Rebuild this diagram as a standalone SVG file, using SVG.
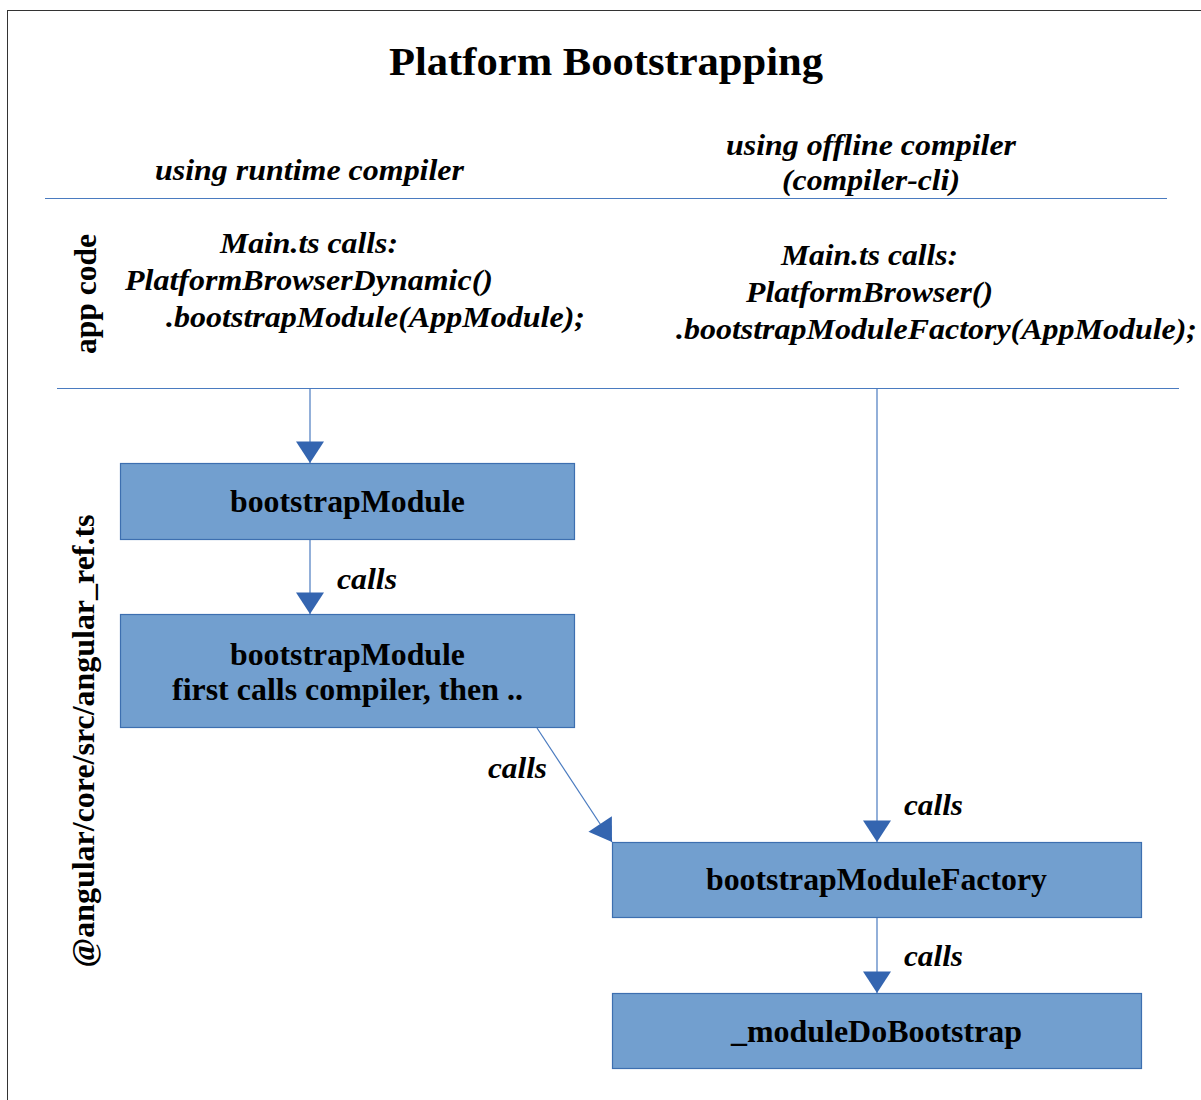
<svg xmlns="http://www.w3.org/2000/svg" width="1201" height="1100" viewBox="0 0 1201 1100">
<style>
text{font-family:"Liberation Serif","Times New Roman",serif;fill:#000;font-weight:bold}
.t{font-size:40px}
.h{font-size:30px;font-style:italic}
.n{font-size:31px;text-anchor:middle}
.c{font-size:30px;font-style:italic}
.r{font-size:31px;text-anchor:middle}
.box{fill:#729fcf;stroke:#3d6fb0;stroke-width:1.2}
.sep{stroke:#4a7bc0;stroke-width:1.2;fill:none}
.edge{stroke:#4a7bc0;stroke-width:1.2;fill:none}
</style>
<defs>
<marker id="ah" markerUnits="userSpaceOnUse" markerWidth="28" markerHeight="28" viewBox="0 0 20 26" refX="20" refY="13" orient="auto">
<path d="M0,0 L20,13 L0,26 Z" fill="#3465b0"/>
</marker>
</defs>
<rect x="7.5" y="10.5" width="1200" height="1100" fill="#fff" stroke="#333" stroke-width="1"/>
<text class="t" x="389" y="75" textLength="434" lengthAdjust="spacingAndGlyphs">Platform Bootstrapping</text>
<text class="h" x="155" y="180" textLength="309" lengthAdjust="spacingAndGlyphs">using runtime compiler</text>
<text class="h" x="726" y="155" textLength="290" lengthAdjust="spacingAndGlyphs">using offline compiler</text>
<text class="h" x="782" y="190" textLength="178" lengthAdjust="spacingAndGlyphs">(compiler-cli)</text>
<line class="sep" x1="45" y1="198.5" x2="1167" y2="198.5"/>
<line class="sep" x1="57" y1="388.5" x2="1179" y2="388.5"/>
<text class="r" transform="translate(96,294) rotate(-90)" textLength="120" lengthAdjust="spacingAndGlyphs">app code</text>
<text class="r" transform="translate(94,741) rotate(-90)" textLength="453" lengthAdjust="spacingAndGlyphs">@angular/core/src/angular_ref.ts</text>
<g id="main-runtime">
<text class="h" x="220" y="253" textLength="178" lengthAdjust="spacingAndGlyphs">Main.ts calls:</text>
<text class="h" x="125" y="290" textLength="368" lengthAdjust="spacingAndGlyphs">PlatformBrowserDynamic()</text>
<text class="h" x="166" y="327" textLength="419" lengthAdjust="spacingAndGlyphs">.bootstrapModule(AppModule);</text>
</g>
<g id="main-offline">
<text class="h" x="781" y="265" textLength="177" lengthAdjust="spacingAndGlyphs">Main.ts calls:</text>
<text class="h" x="746" y="302" textLength="247" lengthAdjust="spacingAndGlyphs">PlatformBrowser()</text>
<text class="h" x="676" y="339" textLength="521" lengthAdjust="spacingAndGlyphs">.bootstrapModuleFactory(AppModule);</text>
</g>
<g id="connectors">
<line class="edge" x1="310" y1="388" x2="310" y2="463" marker-end="url(#ah)"/>
<line class="edge" x1="310" y1="539" x2="310" y2="614" marker-end="url(#ah)"/>
<line class="edge" x1="537" y1="728" x2="612" y2="842" marker-end="url(#ah)"/>
<line class="edge" x1="877" y1="388" x2="877" y2="842" marker-end="url(#ah)"/>
<line class="edge" x1="877" y1="917" x2="877" y2="993" marker-end="url(#ah)"/>
<text class="c" x="337" y="589" textLength="60" lengthAdjust="spacingAndGlyphs">calls</text>
<text class="c" x="488" y="778" textLength="59" lengthAdjust="spacingAndGlyphs">calls</text>
<text class="c" x="904" y="815" textLength="59" lengthAdjust="spacingAndGlyphs">calls</text>
<text class="c" x="904" y="966" textLength="59" lengthAdjust="spacingAndGlyphs">calls</text>
</g>
<g id="bootstrapModule1">
<rect class="box" x="120.5" y="463.5" width="454" height="76"/>
<text class="n" x="347.5" y="512" textLength="235" lengthAdjust="spacingAndGlyphs">bootstrapModule</text>
</g>
<g id="bootstrapModule2">
<rect class="box" x="120.5" y="614.5" width="454" height="113"/>
<text class="n" x="347.5" y="665" textLength="235" lengthAdjust="spacingAndGlyphs">bootstrapModule</text>
<text class="n" x="347.5" y="700" textLength="351" lengthAdjust="spacingAndGlyphs">first calls compiler, then ..</text>
</g>
<g id="bootstrapModuleFactory">
<rect class="box" x="612.5" y="842.5" width="529" height="75"/>
<text class="n" x="876.5" y="890" textLength="341" lengthAdjust="spacingAndGlyphs">bootstrapModuleFactory</text>
</g>
<g id="moduleDoBootstrap">
<rect class="box" x="612.5" y="993.5" width="529" height="75"/>
<text class="n" x="876.5" y="1042" textLength="291" lengthAdjust="spacingAndGlyphs">_moduleDoBootstrap</text>
</g>
</svg>
